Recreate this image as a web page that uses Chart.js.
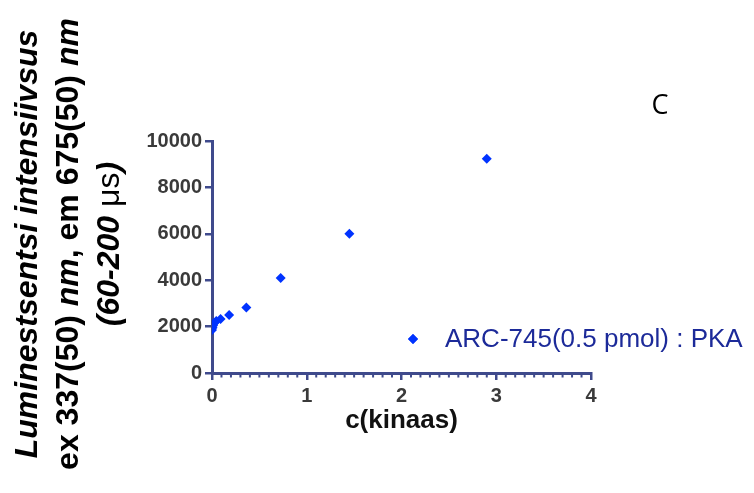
<!DOCTYPE html>
<html>
<head>
<meta charset="utf-8">
<script src="https://cdn.jsdelivr.net/npm/chart.js@4/dist/chart.umd.min.js"></script>
<style>
  html, body { margin: 0; padding: 0; background: #fff; }
  #wrap { width: 754px; height: 493px; }
</style>
</head>
<body>
<div id="wrap"><canvas id="chart" width="754" height="493"></canvas></div>
<script>
(function () {
    "use strict";

    // kinase concentration (x) and luminescence intensity (y)
    const kinaseConc = [0, 0.0057, 0.0113, 0.0227, 0.0453, 0.0906, 0.181, 0.3625, 0.725, 1.45, 2.9];
    const intensity = [1850, 1950, 2050, 2150, 2240, 2330, 2500, 2820, 4100, 6000, 9230];
    const seriesLabel = 'ARC-745(0.5 pmol) : PKA';
    const xTitle = 'c(kinaas)';
    const yTitleLines = [
        [['Luminestsentsi intensiivsus', 'italic bold']],
        [['ex 337(50) ', 'bold'], ['nm', 'italic bold'], [', em 675(50) ', 'bold'], ['nm', 'italic bold']],
        [['(60-200 ', 'italic bold'], ['\u03bcs', 'normal'], [')', 'italic bold']]
    ];
    const panelLetter = 'C';

    const axisColor = '#3f4a8c';
    const markColor = 'rgb(0, 51, 255)';
    const fontFamily = "'Liberation Sans', Arial, sans-serif";

    const points = kinaseConc.map((c, i) => ({ x: c, y: intensity[i] }));

    /* extra drawing: minor ticks, y title, legend, panel letter */
    const extras = {
        id: 'extras',
        afterDraw(chart) {
            const ctx = chart.ctx;
            const xs = chart.scales.x;
            const area = chart.chartArea;

            // minor ticks on x
            ctx.save();
            ctx.strokeStyle = axisColor;
            ctx.lineWidth = 2;
            for (let i = 1; i < 40; i++) {
                if (i % 10 === 0) continue;
                const px = xs.getPixelForValue(i / 10);
                ctx.beginPath();
                ctx.moveTo(px, area.bottom);
                ctx.lineTo(px, area.bottom + 4.5);
                ctx.stroke();
            }
            ctx.restore();

            // y title, rotated, mixed styles
            ctx.save();
            ctx.fillStyle = '#000';
            ctx.textBaseline = 'middle';
            const lineX = [28, 69, 110];
            const centerY = 244;
            yTitleLines.forEach((segs, li) => {
                let total = 0;
                segs.forEach(s => {
                    ctx.font = s[1] + ' 32px ' + fontFamily;
                    total += ctx.measureText(s[0]).width;
                });
                ctx.save();
                ctx.translate(lineX[li], centerY);
                ctx.rotate(-Math.PI / 2);
                let pos = -total / 2;
                segs.forEach(s => {
                    ctx.font = s[1] + ' 32px ' + fontFamily;
                    ctx.textAlign = 'left';
                    ctx.fillText(s[0], pos, 0);
                    pos += ctx.measureText(s[0]).width;
                });
                ctx.restore();
            });
            ctx.restore();

            // legend
            ctx.save();
            ctx.fillStyle = markColor;
            Chart.helpers.drawPoint(ctx, {
                pointStyle: 'rectRot', radius: 5, rotation: 0, borderWidth: 0
            }, 413, 339);
            ctx.fill();
            ctx.font = '26px ' + fontFamily;
            ctx.fillStyle = '#1c2a99';
            ctx.textBaseline = 'middle';
            ctx.textAlign = 'left';
            ctx.fillText(seriesLabel, 445, 340);
            ctx.restore();

            // panel letter
            ctx.save();
            ctx.font = "27px 'Open Sans', sans-serif";
            ctx.fillStyle = '#000';
            ctx.textAlign = 'center';
            ctx.textBaseline = 'middle';
            ctx.fillText(panelLetter, 660, 106);
            ctx.restore();
        }
    };

    const data = {
        datasets: [{
            label: seriesLabel,
            data: points,
            pointStyle: 'rectRot',
            pointRadius: 5,
            pointHoverRadius: 5,
            backgroundColor: markColor,
            borderColor: markColor,
            borderWidth: 0,
            showLine: false
        }]
    };

    const config = {
        type: 'scatter',
        data: data,
        options: {
            responsive: false,
            animation: false,
            layout: {
                padding: { left: 132, right: 163, top: 141, bottom: 50 }
            },
            plugins: {
                legend: { display: false },
                tooltip: { enabled: false }
            },
            scales: {
                x: {
                    type: 'linear',
                    position: 'bottom',
                    min: 0,
                    max: 4,
                    afterFit(scale) { scale.height = 70; },
                    ticks: {
                        stepSize: 1,
                        padding: 4,
                        color: '#3a3a3a',
                        callback: v => String(v),
                        font: { family: fontFamily, size: 20, weight: 'bold' }
                    },
                    grid: {
                        drawOnChartArea: false,
                        drawTicks: true,
                        tickLength: 7,
                        color: axisColor,
                        lineWidth: 2.5
                    },
                    border: { display: true, color: axisColor, width: 3 },
                    title: {
                        display: true,
                        text: xTitle,
                        color: '#111',
                        padding: { top: 2, bottom: 7 },
                        font: { family: fontFamily, size: 26, weight: 'bold' }
                    }
                },
                y: {
                    min: 0,
                    max: 10000,
                    afterFit(scale) { scale.width = 80; },
                    ticks: {
                        stepSize: 2000,
                        padding: 3,
                        color: '#3a3a3a',
                        callback: v => String(v),
                        font: { family: fontFamily, size: 20, weight: 'bold' }
                    },
                    grid: {
                        drawOnChartArea: false,
                        drawTicks: true,
                        tickLength: 7,
                        color: axisColor,
                        lineWidth: 2.5
                    },
                    border: { display: true, color: axisColor, width: 3 }
                }
            }
        },
        plugins: [extras]
    };

    const myChart = new Chart(document.getElementById('chart'), config);
})();
</script>
</body>
</html>
